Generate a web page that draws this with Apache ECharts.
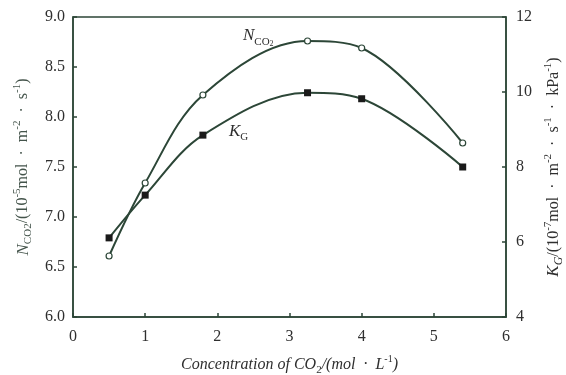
<!DOCTYPE html>
<html>
<head>
<meta charset="utf-8">
<script src="https://cdn.jsdelivr.net/npm/echarts@6/dist/echarts.min.js"></script>
<style>
  html, body { margin: 0; padding: 0; background: #fff; }
  #main { width: 566px; height: 375px; }
</style>
</head>
<body>
<div id="main"></div>
<script>
// data
var concX = [0.5, 1.0, 1.8, 3.25, 4.0, 5.4];
var nco2 = [6.61, 7.34, 8.22, 8.76, 8.69, 7.74];   // left axis
var kg = [6.11, 7.25, 8.85, 9.98, 9.82, 8.0];      // right axis
var leftTicks = [6.0, 9.0, 0.5];
var rightTicks = [4, 12, 2];
var xTicks = [0, 6, 1];

var lineColor = "#2c4637";
var textColor = "#2f2f2f";
var nameColor = "#44544b";
var serif = "Liberation Serif";

function pairs(xs, ys) {
  return xs.map(function (x, i) { return [x, ys[i]]; });
}

function richSet(color, size) {
  return {
    i: { fontStyle: "italic", fontSize: size + 1, fontFamily: serif, color: color, lineHeight: 22, verticalAlign: "middle" },
    t: { fontSize: size, fontFamily: serif, color: color, lineHeight: 22, verticalAlign: "middle" },
    sub: { fontSize: size - 5, fontFamily: serif, color: color, lineHeight: 22, verticalAlign: "bottom" },
    isub: { fontStyle: "italic", fontSize: size - 4, fontFamily: serif, color: color, lineHeight: 22, verticalAlign: "bottom" },
    sup: { fontSize: size - 5, fontFamily: serif, color: color, lineHeight: 22, verticalAlign: "top" }
  };
}

var myChart = echarts.init(document.getElementById("main"));
var option = {
  animation: false,
  textStyle: { fontFamily: serif, color: textColor },
  grid: {
    left: 73, right: 60, top: 17, bottom: 58,
    outerBoundsMode: "none",
    containLabel: false,
    show: true, borderColor: lineColor, borderWidth: 1.5
  },
  xAxis: {
    type: "value",
    min: xTicks[0], max: xTicks[1], interval: xTicks[2],
    name: "{i|Concentration of CO}{sub|2}{i|/(mol  ·  L}{sup|-1}{i|)}",
    nameLocation: "middle",
    nameGap: 37,
    nameTextStyle: {
      rich: {
        i: { fontStyle: "italic", fontSize: 16, fontFamily: serif, color: textColor, lineHeight: 22, verticalAlign: "middle" },
        sub: { fontSize: 11, fontFamily: serif, color: textColor, lineHeight: 22, verticalAlign: "bottom" },
        sup: { fontSize: 10, fontFamily: serif, color: textColor, lineHeight: 22, verticalAlign: "top" }
      }
    },
    axisLine: { lineStyle: { color: lineColor, width: 1.5 } },
    axisTick: { inside: true, length: 4, lineStyle: { color: lineColor, width: 1.5 } },
    axisLabel: { fontSize: 16, fontFamily: serif, color: textColor, margin: 12 },
    splitLine: { show: false }
  },
  yAxis: [
    {
      type: "value",
      min: leftTicks[0], max: leftTicks[1], interval: leftTicks[2],
      name: "{i|N}{sub|CO}{sub|2}{t|/(10}{sup|-5}{t|mol  ·  m}{sup|-2}{t|  ·  s}{sup|-1}{t|)}",
      nameLocation: "middle",
      nameRotate: 90,
      nameGap: 38,
      nameTextStyle: { rich: richSet(nameColor, 16) },
      axisLine: { show: true, lineStyle: { color: lineColor, width: 1.5 } },
      axisTick: { show: true, inside: true, length: 4, lineStyle: { color: lineColor, width: 1.5 } },
      axisLabel: {
        fontSize: 16, fontFamily: serif, color: textColor, margin: 8,
        formatter: function (v) { return v.toFixed(1); }
      },
      splitLine: { show: false }
    },
    {
      type: "value",
      position: "right",
      min: rightTicks[0], max: rightTicks[1], interval: rightTicks[2],
      name: "{i|K}{isub|G}{t|/(10}{sup|-7}{t|mol  ·  m}{sup|-2}{t|  ·  s}{sup|-1}{t|  ·  kPa}{sup|-1}{t|)}",
      nameLocation: "middle",
      nameRotate: 90,
      nameGap: 37,
      nameTextStyle: { rich: richSet(textColor, 16) },
      axisLine: { show: true, lineStyle: { color: lineColor, width: 1.5 } },
      axisTick: { show: true, inside: true, length: 4, lineStyle: { color: lineColor, width: 1.5 } },
      axisLabel: { fontSize: 16, fontFamily: serif, color: textColor, margin: 10 },
      splitLine: { show: false }
    }
  ],
  series: [
    {
      name: "NCO2",
      type: "line",
      yAxisIndex: 0,
      data: pairs(concX, nco2),
      smooth: 0.35,
      symbol: "circle",
      symbolSize: 6,
      lineStyle: { color: lineColor, width: 2 },
      itemStyle: { color: "#fff", borderColor: lineColor, borderWidth: 1.2 },
      z: 3
    },
    {
      name: "KG",
      type: "line",
      yAxisIndex: 1,
      data: pairs(concX, kg),
      smooth: 0.35,
      symbol: "rect",
      symbolSize: 7,
      lineStyle: { color: lineColor, width: 2 },
      itemStyle: { color: "#1a1a1a", borderColor: "#1a1a1a", borderWidth: 0 },
      z: 3
    }
  ],
  graphic: [
    {
      type: "text",
      left: 243, top: 27,
      style: {
        text: "{i|N}{sub|CO}{sub2|2}",
        rich: {
          i: { fontStyle: "italic", fontSize: 17, fontFamily: serif, fill: textColor, lineHeight: 22, verticalAlign: "middle" },
          sub: { fontSize: 11, fontFamily: serif, fill: textColor, lineHeight: 22, verticalAlign: "bottom" },
          sub2: { fontSize: 8, fontFamily: serif, fill: textColor, lineHeight: 24, verticalAlign: "bottom" }
        }
      }
    },
    {
      type: "text",
      left: 229, top: 123,
      style: {
        text: "{i|K}{sub|G}",
        rich: {
          i: { fontStyle: "italic", fontSize: 17, fontFamily: serif, fill: textColor, lineHeight: 22, verticalAlign: "middle" },
          sub: { fontSize: 11, fontFamily: serif, fill: textColor, lineHeight: 22, verticalAlign: "bottom" }
        }
      }
    }
  ]
};
myChart.setOption(option);
</script>
</body>
</html>
